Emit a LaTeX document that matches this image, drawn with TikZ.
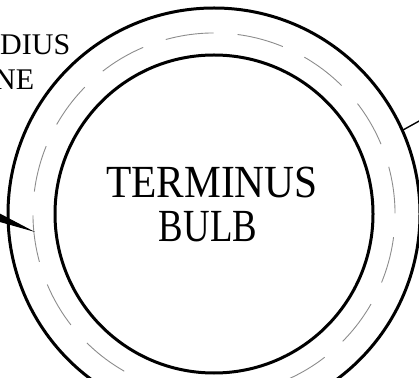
\documentclass[tikz,border=0pt]{standalone}
\usepackage{fontspec}
\setmainfont{Liberation Serif}
\usetikzlibrary{arrows.meta}
\begin{document}
\begin{tikzpicture}[x=1pt,y=1pt,
  ring/.style={line width=3pt, black},
  dashring/.style={line width=0.9pt, black!45, dash pattern=on 47pt off 24pt},
  bigtext/.style={font=\fontsize{46}{46}\selectfont, inner sep=0pt, anchor=base},
  sidetext/.style={font=\fontsize{30}{30}\selectfont, inner sep=0pt, anchor=base west},
  pointer/.style={line width=1pt, -{Triangle[length=40pt,width=8pt]}},
  leader/.style={line width=1.4pt}]
\useasboundingbox (0,0) rectangle (419,377);
\clip (0,0) rectangle (419,377);
\coordinate (c) at (214,163);
\draw[ring] (c) circle[radius=206];
\draw[ring] (c) circle[radius=159];
\draw[dashring] (c) ++(105:181) arc[start angle=105, end angle=-255, radius=181];
\node[bigtext] (term) at (212,179) {\scalebox{0.9}[1]{TERMINUS}};
\node[bigtext] (bulb) at (208,135) {\scalebox{0.8}[1]{BULB}};
\node[sidetext] (radius) at (0,322) {DIUS};
\node[sidetext] (line) at (-6,287) {NE};
\coordinate (tip) at (35,145);
\coordinate (tail) at (-30,171);
\draw[pointer] (tail) -- (tip);
\coordinate (r1) at (403,247);
\coordinate (r2) at (430,262);
\draw[leader] (r1) -- (r2);
\end{tikzpicture}
\end{document}
